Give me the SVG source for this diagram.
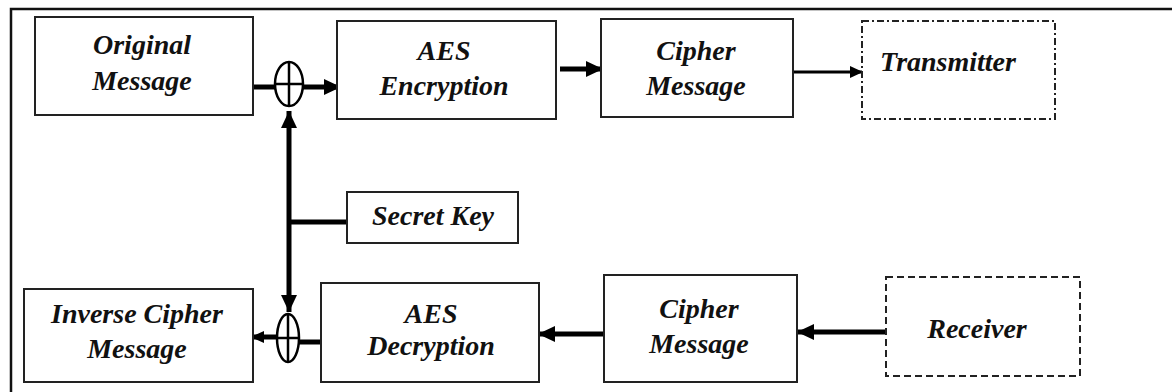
<svg xmlns="http://www.w3.org/2000/svg" width="1172" height="392" viewBox="0 0 1172 392">
<style>
.box{fill:#fff;stroke:#222;stroke-width:2}
.dd{fill:#fff;stroke:#222;stroke-width:2;stroke-dasharray:7 3 2 3}
.dash{fill:#fff;stroke:#222;stroke-width:2;stroke-dasharray:7 4}
.t{font-family:"Liberation Serif","Times New Roman",serif;font-weight:bold;font-style:italic;font-size:28px;fill:#111;text-anchor:middle}
.c{stroke:#000;stroke-width:5;fill:none}
.c3{stroke:#000;stroke-width:3;fill:none}
.x{fill:#fff;stroke:#000;stroke-width:2.5}
</style>
<defs>
<marker id="ah" markerUnits="userSpaceOnUse" markerWidth="18" markerHeight="18" viewBox="0 0 18 18" refX="17" refY="9" orient="auto">
<path d="M0,1 L17,9 L0,17 z" fill="#000"/>
</marker>
<marker id="ahs" markerUnits="userSpaceOnUse" markerWidth="14" markerHeight="14" viewBox="0 0 14 14" refX="13" refY="7" orient="auto">
<path d="M0,1 L13,7 L0,13 z" fill="#000"/>
</marker>
</defs>
<rect x="11" y="9" width="1170" height="400" fill="#fff" stroke="#111" stroke-width="2.5"/>
<g id="connectors">
<line class="c" x1="254" y1="87" x2="276" y2="87"/>
<line class="c" x1="303" y1="87" x2="341" y2="87" marker-end="url(#ah)"/>
<line class="c" x1="560" y1="69" x2="603" y2="69" marker-end="url(#ah)"/>
<line class="c3" x1="793" y1="72" x2="863" y2="72" marker-end="url(#ahs)"/>
<line class="c" x1="289" y1="222" x2="289" y2="111" marker-end="url(#ah)"/>
<line class="c" x1="289" y1="222" x2="289" y2="312" marker-end="url(#ah)"/>
<line class="c" x1="289" y1="222" x2="347" y2="222"/>
<line class="c" x1="604" y1="334" x2="538" y2="334" marker-end="url(#ah)"/>
<line class="c" x1="886" y1="332" x2="797" y2="332" marker-end="url(#ah)"/>
<line class="c" x1="321" y1="342" x2="298" y2="342"/>
<line class="c" x1="278" y1="337" x2="251" y2="337" marker-end="url(#ahs)"/>
</g>
<g id="xor1">
<ellipse class="x" cx="289" cy="84" rx="14" ry="22"/>
<line x1="275" y1="84" x2="303" y2="84" stroke="#000" stroke-width="2.5"/>
<line x1="289" y1="62" x2="289" y2="106" stroke="#000" stroke-width="2.5"/>
</g>
<g id="xor2">
<ellipse class="x" cx="288" cy="338" rx="11" ry="24"/>
<line x1="277" y1="338" x2="299" y2="338" stroke="#000" stroke-width="2.5"/>
<line x1="288" y1="314" x2="288" y2="362" stroke="#000" stroke-width="2.5"/>
</g>
<g id="original-message">
<rect class="box" x="35" y="17" width="218" height="98"/>
<text class="t" x="142" y="54">Original</text>
<text class="t" x="142" y="90">Message</text>
</g>
<g id="aes-encryption">
<rect class="box" x="337" y="21" width="219" height="98"/>
<text class="t" x="444" y="60">AES</text>
<text class="t" x="444" y="95">Encryption</text>
</g>
<g id="cipher-message-top">
<rect class="box" x="601" y="19" width="192" height="98"/>
<text class="t" x="696" y="60">Cipher</text>
<text class="t" x="696" y="95">Message</text>
</g>
<g id="transmitter">
<rect class="dd" x="862" y="21" width="193" height="98"/>
<text class="t" x="948" y="71">Transmitter</text>
</g>
<g id="secret-key">
<rect class="box" x="347" y="192" width="171" height="51"/>
<text class="t" x="433" y="225">Secret Key</text>
</g>
<g id="inverse-cipher-message">
<rect class="box" x="24" y="289" width="229" height="93"/>
<text class="t" x="137" y="323">Inverse Cipher</text>
<text class="t" x="137" y="358">Message</text>
</g>
<g id="aes-decryption">
<rect class="box" x="321" y="283" width="218" height="99"/>
<text class="t" x="431" y="323">AES</text>
<text class="t" x="431" y="355">Decryption</text>
</g>
<g id="cipher-message-bottom">
<rect class="box" x="604" y="275" width="193" height="107"/>
<text class="t" x="699" y="318">Cipher</text>
<text class="t" x="699" y="353">Message</text>
</g>
<g id="receiver">
<rect class="dash" x="886" y="277" width="194" height="99"/>
<text class="t" x="977" y="338">Receiver</text>
</g>
</svg>
